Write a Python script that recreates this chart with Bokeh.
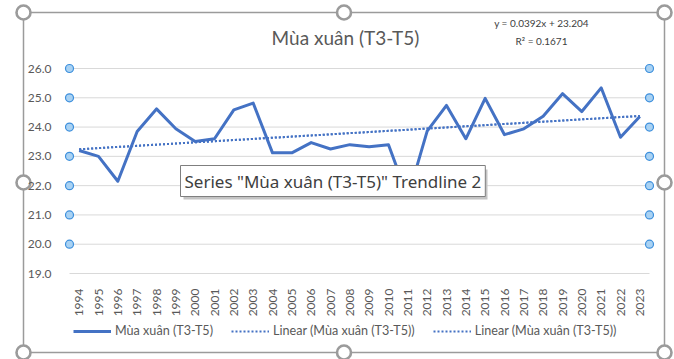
import numpy as np
from bokeh.plotting import figure
from bokeh.models import (ColumnDataSource, FixedTicker, Legend, LegendItem, Label,
                          Range1d, CustomJSTickFormatter, BoxAnnotation)
from bokeh.embed import file_html
from bokeh.resources import INLINE

years = list(range(1994, 2024))
spring = [23.2, 23.0, 22.15, 23.85, 24.62, 23.94, 23.51, 23.6, 24.59, 24.82,
          23.12, 23.12, 23.47, 23.25, 23.4, 23.33, 23.4, 21.6, 23.86, 24.74,
          23.6, 24.98, 23.74, 23.94, 24.37, 25.14, 24.53, 25.34, 23.65, 24.36]
trend_slope = 0.0392
trend_intercept = 23.204
y_ticks = [19, 20, 21, 22, 23, 24, 25, 26]
title_text = "Mùa xuân (T3-T5)"
series_name = "Mùa xuân (T3-T5)"
trend_name = "Linear (Mùa xuân (T3-T5))"
eq_text = "y = 0.0392x + 23.204"
r2_text = "R² = 0.1671"
tooltip_text = 'Series "Mùa xuân (T3-T5)" Trendline 2'

idx = np.arange(1, len(years) + 1)
trend = trend_slope * idx + trend_intercept

FONT = "Lato"
BLUE = "#4472C4"
GREY = "#595959"

# page geometry (pixels)
W, H = 674, 359
PL, PR = 69, 649          # plot-area left/right
PT, PB = 68, 273          # y of top (26) and bottom (19) gridlines
CL, CR, CT, CB = 23, 664, 12, 352   # chart-area border (selection frame)
kx = (PR - PL) / 30.0
ky = (PB - PT) / 7.0

def X(px):
    return 1993.5 + (px - PL) / kx

def Y(py):
    return 26 - (py - PT) / ky

x0, x1 = years[0] - 0.5, years[-1] + 0.5
src = ColumnDataSource(dict(x=years, y=spring, t=trend))

p = figure(width=W, height=H, output_backend="svg", toolbar_location=None,
           x_range=Range1d(X(0), X(W)), y_range=Range1d(Y(H), Y(0)),
           min_border_left=0, min_border_right=0, min_border_top=0, min_border_bottom=0)
p.title.visible = False
p.outline_line_color = None
p.background_fill_color = "white"
p.border_fill_color = "white"

p.xgrid.grid_line_color = None
p.ygrid.grid_line_color = None
p.yaxis.ticker = FixedTicker(ticks=y_ticks)
p.yaxis.formatter = CustomJSTickFormatter(code="return tick.toFixed(1);")
p.yaxis.fixed_location = x0
p.xaxis.ticker = FixedTicker(ticks=years)
p.xaxis.major_label_orientation = np.pi / 2
p.xaxis.fixed_location = y_ticks[0]
for ax in (p.xaxis[0], p.yaxis[0]):
    ax.axis_line_color = None
    ax.major_tick_line_color = None
    ax.minor_tick_line_color = None
    ax.major_label_text_font = FONT
    ax.major_label_text_font_size = "12px"
    ax.major_label_text_color = GREY
p.yaxis.major_label_standoff = 12
p.xaxis.major_label_standoff = 9

# horizontal gridlines at the value-axis ticks
p.segment(x0=[x0] * len(y_ticks), x1=[x1] * len(y_ticks), y0=y_ticks, y1=y_ticks,
          line_color="#d9d9d9", line_width=1)

# chart-area selection frame
p.line([X(CL), X(CR), X(CR), X(CL), X(CL)], [Y(CT), Y(CT), Y(CB), Y(CB), Y(CT)],
       line_color="#9b9b9b", line_width=1.5)

r_line = p.line("x", "y", source=src, line_color=BLUE, line_width=3, line_join="round")
r_t1 = p.line("x", "t", source=src, line_color=BLUE, line_width=2, line_dash="2 2")
r_t2 = p.line("x", "t", source=src, line_color=BLUE, line_width=2, line_dash="2 2")

# plot-area selection handles (at the value gridlines, both sides)
hy = y_ticks[1:]
p.scatter([x0] * len(hy) + [x1] * len(hy), hy + hy, size=8, marker="circle",
          fill_color="#a9d2f3", line_color="#3d8fdc", line_width=1.2)
# chart-area selection handles
hx = [X(CL), X((CL + CR) / 2), X(CR)]
hyy = [Y(CT), Y((CT + CB) / 2), Y(CB)]
gx = [a for a in hx for b in hyy if not (a == hx[1] and b == hyy[1])]
gy = [b for a in hx for b in hyy if not (a == hx[1] and b == hyy[1])]
p.scatter(gx, gy, size=14, marker="circle", fill_color="white",
          line_color="#9b9b9b", line_width=2.6)

legend = Legend(items=[LegendItem(label=series_name, renderers=[r_line]),
                       LegendItem(label=trend_name, renderers=[r_t1]),
                       LegendItem(label=trend_name, renderers=[r_t2])],
                orientation="horizontal", location=(PL + 4, H - 338),
                glyph_width=38, glyph_height=14, label_height=14,
                label_text_font=FONT, label_text_font_size="12.6px",
                label_text_color=GREY, label_standoff=4, spacing=18,
                padding=0, margin=0, border_line_color=None,
                background_fill_alpha=0)
p.add_layout(legend)

p.add_layout(Label(x=X(345), y=Y(37), text=title_text, text_align="center",
                   text_baseline="middle", text_font=FONT, text_font_size="19px",
                   text_color=GREY))
p.add_layout(Label(x=X(541), y=Y(22), text=eq_text, text_align="center",
                   text_baseline="middle", text_font=FONT, text_font_size="10px",
                   text_color="#404040"))
p.add_layout(Label(x=X(541), y=Y(40), text=r2_text, text_align="center",
                   text_baseline="middle", text_font=FONT, text_font_size="10px",
                   text_color="#404040"))
# tooltip shadow + tooltip
p.add_layout(BoxAnnotation(left=X(183), right=X(487), top=Y(169), bottom=Y(199),
                           fill_color="#c4c4c4", fill_alpha=1, line_color=None))
p.add_layout(Label(x=X(180), y=Y(196), text=tooltip_text, text_align="left",
                   text_baseline="bottom", text_font="Noto Sans", text_font_size="17px",
                   text_color="#404040", background_fill_color="white",
                   border_line_color="#7f7f7f", border_line_width=1, padding=4))

open("out.html", "w").write(file_html(p, INLINE))
